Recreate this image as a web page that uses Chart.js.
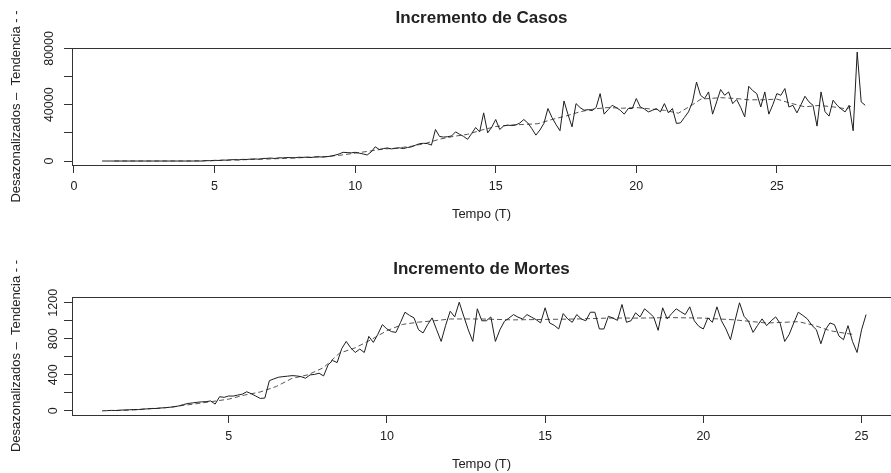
<!DOCTYPE html>
<html><head><meta charset="utf-8">
<script src="https://cdn.jsdelivr.net/npm/chart.js@4.4.1/dist/chart.umd.min.js"></script>
<style>
html,body{margin:0;padding:0;background:#fff;}
canvas{display:block;}
</style></head>
<body>
<canvas id="c1" width="891" height="236"></canvas>
<canvas id="c2" width="891" height="237"></canvas>
<script>
// ---- data ----
const FREQ = 7;
const casesStart = 1;
const casesValues = [
  0,0,0,0,0,0,0,0,0,0,
  0,0,0,0,0,0,0,0,0,0,
  0,0,0,0,0,0,300,200,500,400,
  700,600,900,1000,800,1200,1100,1400,1500,1300,
  1800,1900,2100,1800,2300,2200,2500,2400,2300,2700,
  2600,2800,2500,2900,3000,2800,3100,3500,4200,5000,
  6200,6000,5800,6200,5600,5000,4300,6500,10100,8200,
  8800,9300,8600,9000,9400,8800,9600,10000,11200,12300,
  12600,12400,11300,22400,17500,17000,17300,17800,20700,19000,
  17500,15400,19500,23800,20700,34200,20000,24000,29500,22400,
  25000,25500,25200,25600,27000,29500,27000,23000,18400,22000,
  26700,37300,31000,26000,21500,42700,33000,24300,40800,38000,
  36100,36500,35800,38000,47900,33300,36500,39600,38000,36100,
  33300,37300,37300,44400,38400,37000,34900,36000,37300,34900,
  40800,34200,37300,26700,27100,31000,34900,42000,56100,46700,
  44400,49100,33300,42000,50800,46700,49100,40800,43700,38000,
  31400,53100,50000,47900,38400,49100,33300,40000,47900,46700,
  51500,38400,39600,34200,40000,46000,42000,39600,24800,49100,
  35000,31900,43200,39600,37000,34900,39600,21500,77400,42000,
  39600
];
const casesTrendX = [1.43,4,5,6,7,8,9,9.5,10,10.5,11,11.5,12,12.5,13,13.5,14,14.5,15,15.5,16,16.5,17,17.5,18,18.5,19,19.5,20,20.5,21,21.5,22,22.3,23,23.5,24,24.5,25,25.5,26,26.5,27,27.5,27.71];
const casesTrendY = [0,0,300,900,1500,2300,3200,4200,5600,7000,8500,9200,10500,12500,15500,17500,19000,22000,24500,25500,26000,26500,29500,32000,35000,37000,38000,37500,38000,37000,36000,34000,40000,44000,45000,44500,43500,43500,44000,41000,38500,39500,38500,37000,40000];

const deathsStart = 1;
const deathsValues = [
  0,2,5,4,8,10,12,15,14,20,
  22,27,26,32,35,40,45,55,70,82,
  88,95,100,102,110,75,157,150,165,164,
  175,185,212,190,164,138,142,335,355,373,
  380,385,391,388,380,362,399,405,418,388,
  511,559,536,690,771,700,648,686,648,827,
  760,850,957,909,880,871,980,1095,1060,1032,
  900,865,957,1032,900,771,950,1106,1043,1206,
  1050,900,771,1133,1000,1000,1043,771,900,994,
  1030,1069,1040,1021,1069,1040,1013,976,1144,976,
  950,909,1080,1020,983,1069,1020,1000,1095,1095,
  909,909,1050,1030,1005,1181,983,1000,1088,1043,
  1133,1090,1043,894,1144,1021,1080,1133,1100,1069,
  1155,1000,938,909,1032,983,1155,1000,909,790,
  1000,1200,1050,994,871,950,1021,946,1000,1043,
  969,771,850,976,1095,1060,1021,950,901,745,
  900,976,957,830,790,946,770,648,900,1069
];
const deathsTrendX = [1.43,2,3,4,4.5,5,5.5,6,6.5,7,7.5,8,8.5,9,9.5,10,10.5,11,11.5,12,13,14,15,16,17,18,19,20,21,22,23,23.5,24,24.5,24.71];
const deathsTrendY = [3,10,35,80,105,130,175,210,270,360,400,480,640,700,790,890,960,985,1000,1020,1020,1010,1015,1020,1030,1030,1035,1030,1010,975,990,950,890,860,850];

const casesXTicks = [0, 5, 10, 15, 20, 25];
const casesYTicks = [0, 20000, 40000, 60000, 80000];
const casesYTickLabels = [0, 40000, 80000];
const deathsXTicks = [5, 10, 15, 20, 25];
const deathsYTicks = [0, 200, 400, 600, 800, 1000, 1200];
const deathsYTickLabels = [0, 400, 800, 1200];
const xTitle = 'Tempo (T)';
const yTitle = 'Desazonalizados \u2013\u00a0\u00a0Tendencia - -';
const casesTitle = 'Incremento de Casos';
const deathsTitle = 'Incremento de Mortes';

// ---- rendering ----
const FONT = "'Liberation Sans', Arial, Helvetica, sans-serif";
const INK = '#222';

const boxPlugin = {
  id: 'box',
  afterDraw(chart) {
    const {ctx, chartArea: a} = chart;
    ctx.save();
    ctx.strokeStyle = '#333';
    ctx.lineWidth = 1;
    ctx.strokeRect(Math.round(a.left) + 0.5, Math.round(a.top) + 0.5,
                   Math.round(a.right - a.left), Math.round(a.bottom - a.top));
    ctx.restore();
  }
};

function series(start, values) {
  return values.map((v, i) => ({x: start + i / FREQ, y: v}));
}
function pairs(xs, ys) {
  return xs.map((x, i) => ({x: x, y: ys[i]}));
}

function build(canvasId, cfg) {
  const grid = {display: true, drawOnChartArea: false, drawTicks: true, tickLength: 8, color: '#333', lineWidth: 1};
  new Chart(document.getElementById(canvasId), {
    type: 'line',
    data: {
      datasets: [
        {data: cfg.main, xAxisID: 'x', yAxisID: 'y', borderColor: '#1e1e1e', borderWidth: 1, pointRadius: 0, tension: 0, fill: false},
        {data: cfg.trend, xAxisID: 'x', yAxisID: 'y', borderColor: '#555', borderWidth: 1, borderDash: [5, 3], pointRadius: 0, tension: 0, fill: false}
      ]
    },
    options: {
      responsive: false,
      animation: false,
      devicePixelRatio: 1,
      layout: {padding: 0},
      plugins: {
        legend: {display: false},
        tooltip: {enabled: false},
        title: {display: false}
      },
      scales: {
        x: {
          type: 'linear', position: 'bottom', min: cfg.xmin, max: cfg.xmax,
          afterFit(s) { s.height = cfg.xHeight; },
          afterBuildTicks(s) { s.ticks = cfg.xTicks.map(v => ({value: v})); },
          border: {display: false},
          grid: grid,
          ticks: {autoSkip: false, maxRotation: 0,
                  padding: cfg.xTickPad, color: INK, font: {family: FONT, size: 12.5},
                  callback: v => String(v)},
          title: {display: true, text: xTitle, color: INK, font: {family: FONT, size: 13},
                  padding: {top: 0, bottom: cfg.xTitlePad}}
        },
        y: {
          type: 'linear', min: cfg.ymin, max: cfg.ymax,
          afterFit(s) { s.width = 72; },
          afterBuildTicks(s) { s.ticks = cfg.yTicks.map(v => ({value: v})); },
          border: {display: false},
          grid: grid,
          ticks: {autoSkip: false,
                  minRotation: 90, maxRotation: 90, crossAlign: 'center', padding: -3,
                  color: INK, font: {family: FONT, size: 12.5},
                  callback: v => cfg.yLabels.includes(v) ? String(v) : ''},
          title: {display: true, text: yTitle, color: INK, font: {family: FONT, size: 13},
                  padding: {top: 9, bottom: 0}}
        },
        x2: {
          type: 'linear', position: 'top', min: 0, max: 1,
          afterFit(s) { s.height = cfg.topHeight; },
          ticks: {display: false}, grid: {display: false}, border: {display: false},
          title: {display: true, text: cfg.title, color: INK,
                  font: {family: FONT, size: 17, weight: 'bold'},
                  padding: {top: cfg.titleTop, bottom: 0}}
        }
      }
    },
    plugins: [boxPlugin]
  });
}

build('c1', {
  main: series(casesStart, casesValues),
  trend: pairs(casesTrendX, casesTrendY),
  title: casesTitle, topHeight: 48, titleTop: 7.8,
  xmin: -0.071, xmax: 29.06, xHeight: 71, xTickPad: 6.5, xTitlePad: 14,
  xTicks: casesXTicks,
  ymin: -2824, ymax: 80300, yTicks: casesYTicks, yLabels: casesYTickLabels
});
build('c2', {
  main: series(deathsStart, deathsValues),
  trend: pairs(deathsTrendX, deathsTrendY),
  title: deathsTitle, topHeight: 61, titleTop: 22.8,
  xmin: 0.049, xmax: 25.93, xHeight: 58, xTickPad: 6.2, xTitlePad: 0.5,
  xTicks: deathsXTicks,
  ymin: -46, ymax: 1264, yTicks: deathsYTicks, yLabels: deathsYTickLabels
});
</script>
</body></html>
